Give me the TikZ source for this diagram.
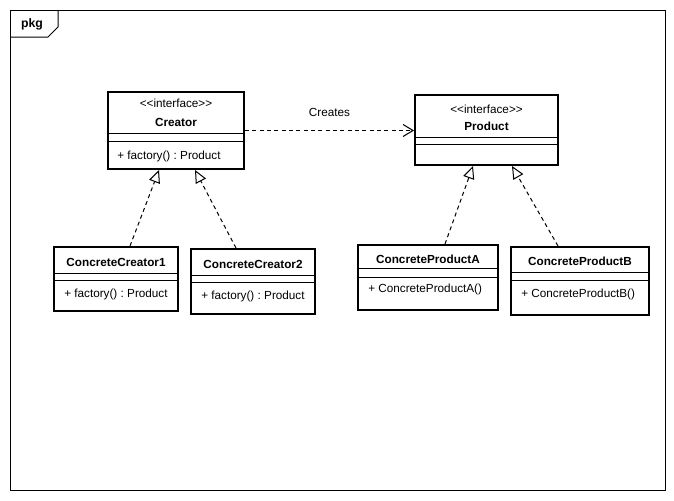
\documentclass[tikz,border=0pt]{standalone}
\usepackage{fontspec}
\newfontfamily\umlfont{Liberation Sans}
\usepackage{tikz}
\usetikzlibrary{arrows.meta}
\frenchspacing

\tikzset{
  classbox/.style={draw=black, line width=1.5pt, rectangle, inner sep=0pt},
  realize/.style={black, line width=0.75pt, dash pattern=on 3pt off 2.5pt,
    -{Triangle[open, fill=white, length=9.5pt, width=8.5pt]}},
  creates/.style={black, line width=0.75pt, dash pattern=on 3pt off 2.5pt,
    -{Straight Barb[length=7.5pt, width=9pt]}},
}

\begin{document}
\begin{tikzpicture}[x=0.75pt,y=-0.75pt]
\tikzstyle{every node}+=[inner sep=0pt, font=\umlfont\fontsize{8.8pt}{10pt}\selectfont]
\useasboundingbox (0,0) rectangle (674,500);
% package frame
\draw [black, line width=0.75pt] (10,10) rectangle (665,490);
\draw [black, line width=0.75pt] (58,10) -- (58,27) -- (48,37) -- (10,37);
\node [font=\umlfont\bfseries\fontsize{9.2pt}{10pt}\selectfont] (pkg) at (32,24) {pkg};
% interfaces
\node [classbox, minimum width=102pt, minimum height=57.75pt] (creator) at (176,130.5) {};
\draw [black, line width=0.75pt] (creator.west |- 0,133) -- (creator.east |- 0,133);
\draw [black, line width=0.75pt] (creator.west |- 0,141) -- (creator.east |- 0,141);
\node (creatorSt) at (176,103) {<<interface>>};
\node [font=\umlfont\bfseries\fontsize{8.8pt}{10pt}\selectfont] (creatorName) at (176,122) {Creator};
\node [anchor=west] (creatorOp) at (117,156) {+ factory() : Product};
\node [classbox, minimum width=107.25pt, minimum height=52.5pt] (product) at (486.5,130) {};
\draw [black, line width=0.75pt] (product.west |- 0,137) -- (product.east |- 0,137);
\draw [black, line width=0.75pt] (product.west |- 0,144) -- (product.east |- 0,144);
\node (productSt) at (486.5,109) {<<interface>>};
\node [font=\umlfont\bfseries\fontsize{8.8pt}{10pt}\selectfont] (productName) at (486.5,126) {Product};
% concrete classes
\node [classbox, minimum width=93pt, minimum height=48pt] (cc1) at (116,279) {};
\draw [black, line width=0.75pt] (cc1.west |- 0,273) -- (cc1.east |- 0,273);
\draw [black, line width=0.75pt] (cc1.west |- 0,280) -- (cc1.east |- 0,280);
\node [font=\umlfont\bfseries\fontsize{8.8pt}{10pt}\selectfont] (cc1Name) at (116,262) {ConcreteCreator1};
\node [anchor=west] (cc1Op) at (64,294) {+ factory() : Product};
\node [classbox, minimum width=93pt, minimum height=48.75pt] (cc2) at (253,281.5) {};
\draw [black, line width=0.75pt] (cc2.west |- 0,275) -- (cc2.east |- 0,275);
\draw [black, line width=0.75pt] (cc2.west |- 0,282) -- (cc2.east |- 0,282);
\node [font=\umlfont\bfseries\fontsize{8.8pt}{10pt}\selectfont] (cc2Name) at (253,264) {ConcreteCreator2};
\node [anchor=west] (cc2Op) at (201,296) {+ factory() : Product};
\node [classbox, minimum width=105pt, minimum height=48.75pt] (cpa) at (428,277.5) {};
\draw [black, line width=0.75pt] (cpa.west |- 0,268) -- (cpa.east |- 0,268);
\draw [black, line width=0.75pt] (cpa.west |- 0,277) -- (cpa.east |- 0,277);
\node [font=\umlfont\bfseries\fontsize{8.8pt}{10pt}\selectfont] (cpaName) at (428,259) {ConcreteProductA};
\node [anchor=west] (cpaOp) at (368,289) {+ ConcreteProductA()};
\node [classbox, minimum width=103.5pt, minimum height=51pt] (cpb) at (580,281) {};
\draw [black, line width=0.75pt] (cpb.west |- 0,272) -- (cpb.east |- 0,272);
\draw [black, line width=0.75pt] (cpb.west |- 0,280) -- (cpb.east |- 0,280);
\node [font=\umlfont\bfseries\fontsize{8.8pt}{10pt}\selectfont] (cpbName) at (580,261) {ConcreteProductB};
\node [anchor=west] (cpbOp) at (521,294) {+ ConcreteProductB()};
% realizations
\draw [realize] ([xshift=10.5pt]cc1.north) -- ([xshift=-12.75pt]creator.south);
\draw [realize] ([xshift=-12.75pt]cc2.north) -- ([xshift=14.25pt]creator.south);
\draw [realize] ([xshift=12.75pt]cpa.north) -- ([xshift=-10.125pt]product.south);
\draw [realize] ([xshift=-16.5pt]cpb.north) -- ([xshift=19.125pt]product.south);
% dependency
\draw [creates] (creator.east) -- (creator.east -| product.west)
  node [midway, above=10pt] (createsLbl) {Creates};
\end{tikzpicture}
\end{document}
